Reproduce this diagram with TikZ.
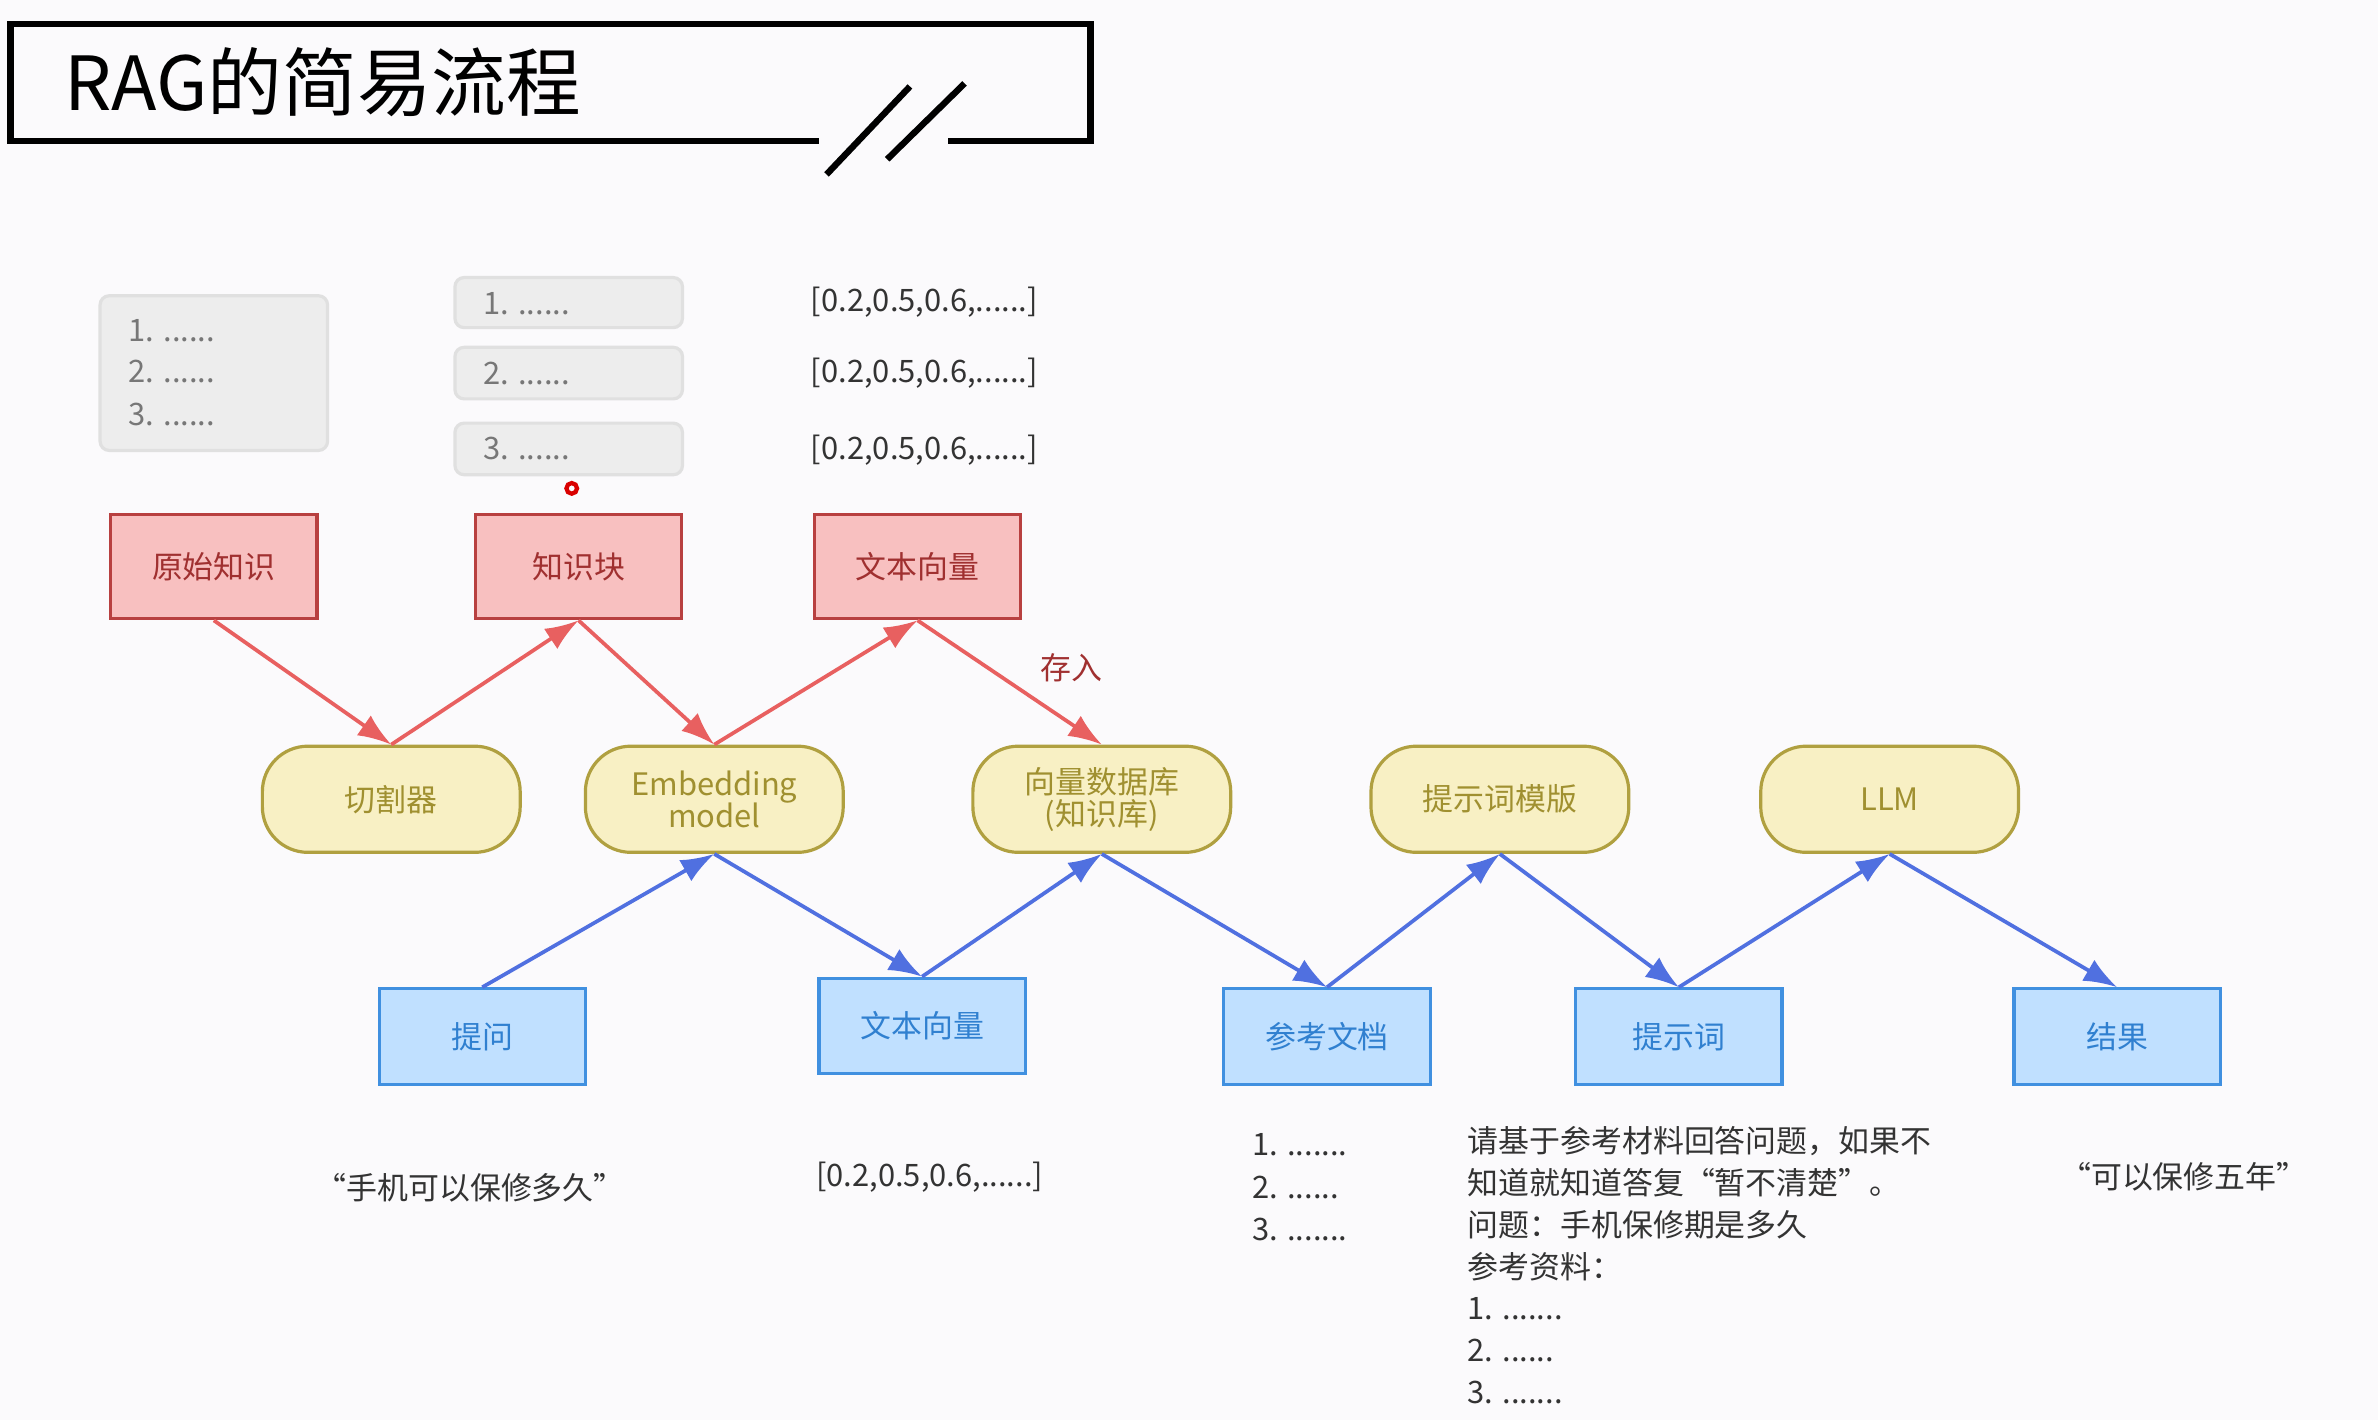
\documentclass[tikz,border=0pt]{standalone}
\usepackage{fontspec}
\setmainfont{Noto Sans CJK SC}
\usetikzlibrary{arrows.meta}
\definecolor{bg}{HTML}{FBFAFC}
\definecolor{rf}{HTML}{F8C0C0}\definecolor{rd}{HTML}{B84040}\definecolor{rt}{HTML}{A03030}
\definecolor{yf}{HTML}{F8F0C4}\definecolor{yd}{HTML}{B0A040}\definecolor{yt}{HTML}{A09030}
\definecolor{bf}{HTML}{C0E0FF}\definecolor{bd}{HTML}{4090E0}\definecolor{bt}{HTML}{3080D0}
\definecolor{ra}{HTML}{E86060}\definecolor{ba}{HTML}{5070E0}
\definecolor{gt}{HTML}{777777}
\begin{document}
\begin{tikzpicture}[x=0.1mm,y=-0.1mm,font=\fontsize{5.8}{7}\selectfont,
 red/.style={draw=rd,fill=rf,text=rt,line width=0.6pt,minimum width=13.6mm,minimum height=6.9mm,inner sep=0},
 yel/.style={draw=yd,fill=yf,text=yt,line width=0.6pt,rounded corners=3mm,minimum width=17mm,minimum height=7mm,inner sep=0,align=center},
 blu/.style={draw=bd,fill=bf,text=bt,line width=0.6pt,minimum width=13.6mm,minimum height=6.3mm,inner sep=0},
 gbox/.style={draw=black!12,fill=black!7,rounded corners=0.6mm,line width=0.6pt},
 txt/.style={text=black!80,inner sep=0},
 gray/.style={text=gt,inner sep=0,anchor=west},
 rarr/.style={draw=ra,line width=0.7pt,-{Latex[length=2.2mm,width=1.6mm]}},
 barr/.style={draw=ba,line width=0.7pt,-{Latex[length=2.2mm,width=1.6mm]}}]
\fill[bg] (0,0) rectangle (1568,936);
\useasboundingbox (0,0) rectangle (1568,936);
% title
\draw[line width=1.2pt] (540,93) -- (7,93) -- (7,16) -- (719,16) -- (719,93) -- (625,93);
\draw[line width=1.2pt] (545,115) -- (600,57) (585,105) -- (636,55);
\node[anchor=west,inner sep=0,font=\fontsize{14}{16}\selectfont] (title) at (42,54) {RAG的简易流程};
% grey boxes
\draw[gbox] (66,195) rectangle (216,297);
\node[gray] (l1) at (84,218) {1. ......};
\node[gray] (l2) at (84,245) {2. ......};
\node[gray] (l3) at (84,273) {3. ......};
\draw[gbox] (300,183) rectangle (450,216);
\draw[gbox] (300,229) rectangle (450,263);
\draw[gbox] (300,279) rectangle (450,313);
\node[gray] (c1) at (318,200) {1. ......};
\node[gray] (c2) at (318,246) {2. ......};
\node[gray] (c3) at (318,296) {3. ......};
\draw[red!85!black,line width=0.8pt] (377,322) circle (3.5);
\node[txt,anchor=west] (v1) at (534,199) {[0.2,0.5,0.6,......]};
\node[txt,anchor=west] (v2) at (534,246) {[0.2,0.5,0.6,......]};
\node[txt,anchor=west] (v3) at (534,297) {[0.2,0.5,0.6,......]};
% red
\node[red] (ys) at (141,373.5) {原始知识};
\node[red] (zsk) at (381.5,373.5) {知识块};
\node[red] (wbl) at (605,373.5) {文本向量};
% yellow
\node[yel] (qg) at (258,527) {切割器};
\node[yel] (emb) at (471,527) {Embedding\\[-1pt]model};
\node[yel] (db) at (726.5,527) {向量数据库\\[-1pt](知识库)};
\node[yel] (mb) at (989,527) {提示词模版};
\node[yel] (llm) at (1246,527) {LLM};
% blue
\node[blu] (tw) at (318,683.5) {提问};
\node[blu] (wbl2) at (608,676.5) {文本向量};
\node[blu] (ck) at (875,683.5) {参考文档};
\node[blu] (tsc) at (1107,683.5) {提示词};
\node[blu] (jg) at (1396,683.5) {结果};
% red arrows
\draw[rarr] (ys.south) -- (qg.north);
\draw[rarr] (qg.north) -- (zsk.south);
\draw[rarr] (zsk.south) -- (emb.north);
\draw[rarr] (emb.north) -- (wbl.south);
\draw[rarr] (wbl.south) -- node[pos=0.6,above right,text=rt,inner sep=2pt] (cr) {存入} (db.north);
% blue arrows
\draw[barr] (tw.north) -- (emb.south);
\draw[barr] (emb.south) -- (wbl2.north);
\draw[barr] (wbl2.north) -- (db.south);
\draw[barr] (db.south) -- (ck.north);
\draw[barr] (ck.north) -- (mb.south);
\draw[barr] (mb.south) -- (tsc.north);
\draw[barr] (tsc.north) -- (llm.south);
\draw[barr] (llm.south) -- (jg.north);
% bottom texts
\node[txt] (q) at (310,783) {“手机可以保修多久”};
\node[txt] (vq) at (613,776) {[0.2,0.5,0.6,......]};
\node[txt,anchor=west] (d1) at (825,755) {1. .......};
\node[txt,anchor=west] (d2) at (825,783) {2. ......};
\node[txt,anchor=west] (d3) at (825,811) {3. .......};
\node[txt,anchor=north west,align=left,font=\fontsize{5.8}{7.85}\selectfont] (p) at (967,742) {请基于参考材料回答问题，如果不\\知道就知道答复“暂不清楚”。\\问题：手机保修期是多久\\参考资料：\\1. .......\\2. ......\\3. .......};
\node[txt] (ans) at (1440,776) {“可以保修五年”};
\end{tikzpicture}
\end{document}
